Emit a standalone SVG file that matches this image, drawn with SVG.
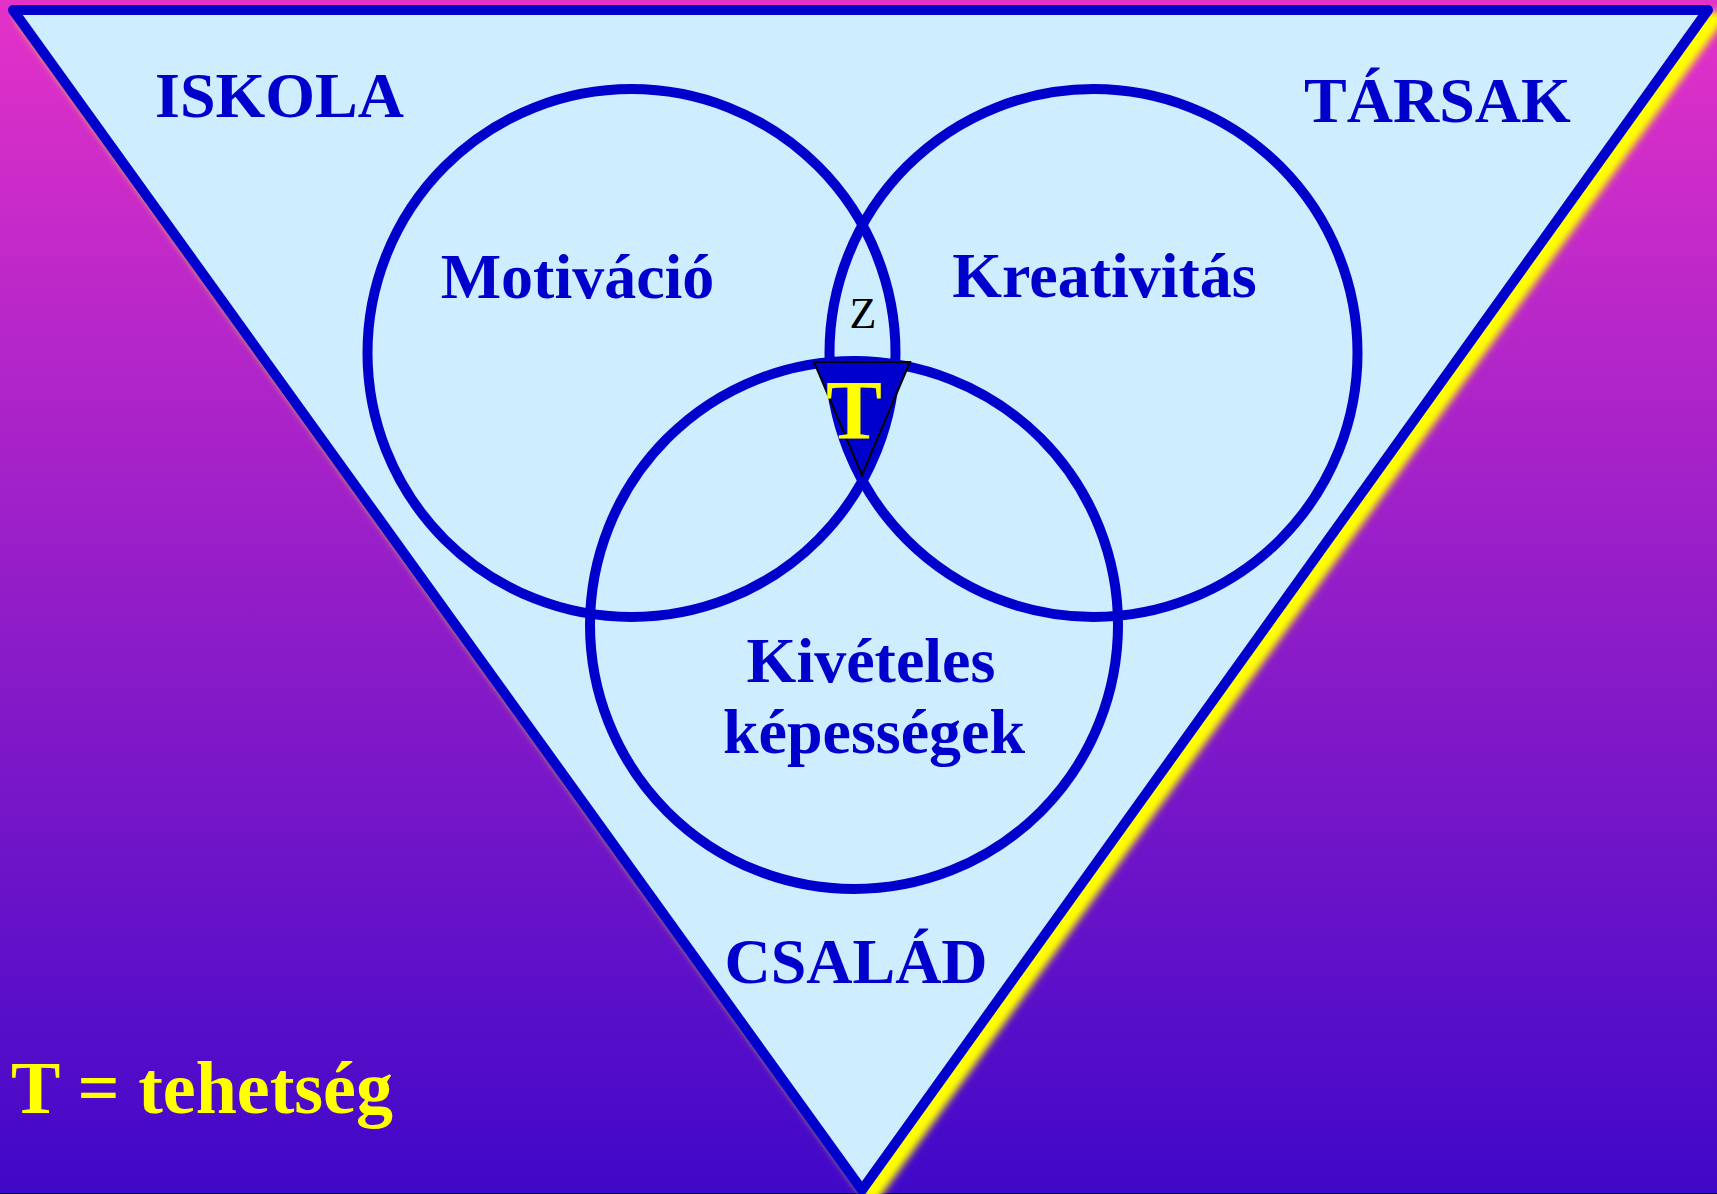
<svg xmlns="http://www.w3.org/2000/svg" width="1717" height="1194" viewBox="0 0 1717 1194">
  <style>
    .lbl { font-family: "Liberation Serif", "Times New Roman", serif; font-weight: bold; fill: #0000cc; }
    .circ { fill: none; stroke: #0000cc; stroke-width: 10; }
  </style>
  <defs>
    <linearGradient id="bg" x1="0" y1="0" x2="0" y2="1">
      <stop offset="0" stop-color="#e432c8"/>
      <stop offset="1" stop-color="#4008c8"/>
    </linearGradient>
    <filter id="blur" x="-10%" y="-10%" width="120%" height="120%">
      <feGaussianBlur stdDeviation="3.5"/>
    </filter>
  </defs>
  <rect x="0" y="0" width="1717" height="1194" fill="url(#bg)"/>
  <rect x="0" y="1193" width="1717" height="1" fill="#000"/>

  <g id="frame">
    <polygon points="22,18 1718,18 872,1198" fill="#ffff00" stroke="#ffff00" stroke-width="12" stroke-linejoin="round" filter="url(#blur)"/>
    <polygon points="13,10 1708,10 862,1190" fill="#cceeff" stroke="#0000cc" stroke-width="10" stroke-linejoin="round"/>
  </g>

  <g id="context-labels">
    <text id="iskola" class="lbl" x="155" y="117" font-size="64">ISKOLA</text>
    <text id="tarsak" class="lbl" x="1304" y="122" font-size="64">TÁRSAK</text>
    <text id="csalad" class="lbl" x="856" y="983" font-size="64" text-anchor="middle">CSALÁD</text>
  </g>

  <g id="circle-motivacio">
    <circle class="circ" cx="631.5" cy="353" r="264"/>
    <text class="lbl" x="577.5" y="298" font-size="64" text-anchor="middle">Motiváció</text>
  </g>
  <g id="circle-kreativitas">
    <circle class="circ" cx="1093.5" cy="353" r="264"/>
    <text class="lbl" x="1104.5" y="297" font-size="64" text-anchor="middle">Kreativitás</text>
  </g>
  <g id="circle-kepessegek">
    <circle class="circ" cx="854" cy="625" r="264"/>
    <text class="lbl" x="871" y="682" font-size="64" text-anchor="middle">Kivételes</text>
    <text class="lbl" x="874" y="753" font-size="64" text-anchor="middle">képességek</text>
  </g>

  <g id="z-label">
    <text x="863" y="328" font-family="Liberation Serif, Times New Roman, serif" font-size="44" fill="#000" text-anchor="middle">Z</text>
  </g>

  <g id="talent-node">
    <polygon points="814,362 910,362 862,475" fill="#0000cc" stroke="#000" stroke-width="2"/>
    <text x="854" y="439" font-family="Liberation Serif, Times New Roman, serif" font-weight="bold" font-size="84" fill="#ffff00" text-anchor="middle">T</text>
  </g>

  <g id="legend">
    <text x="11" y="1113" font-family="Liberation Serif, Times New Roman, serif" font-weight="bold" font-size="74" fill="#ffff00">T = tehetség</text>
  </g>
</svg>
